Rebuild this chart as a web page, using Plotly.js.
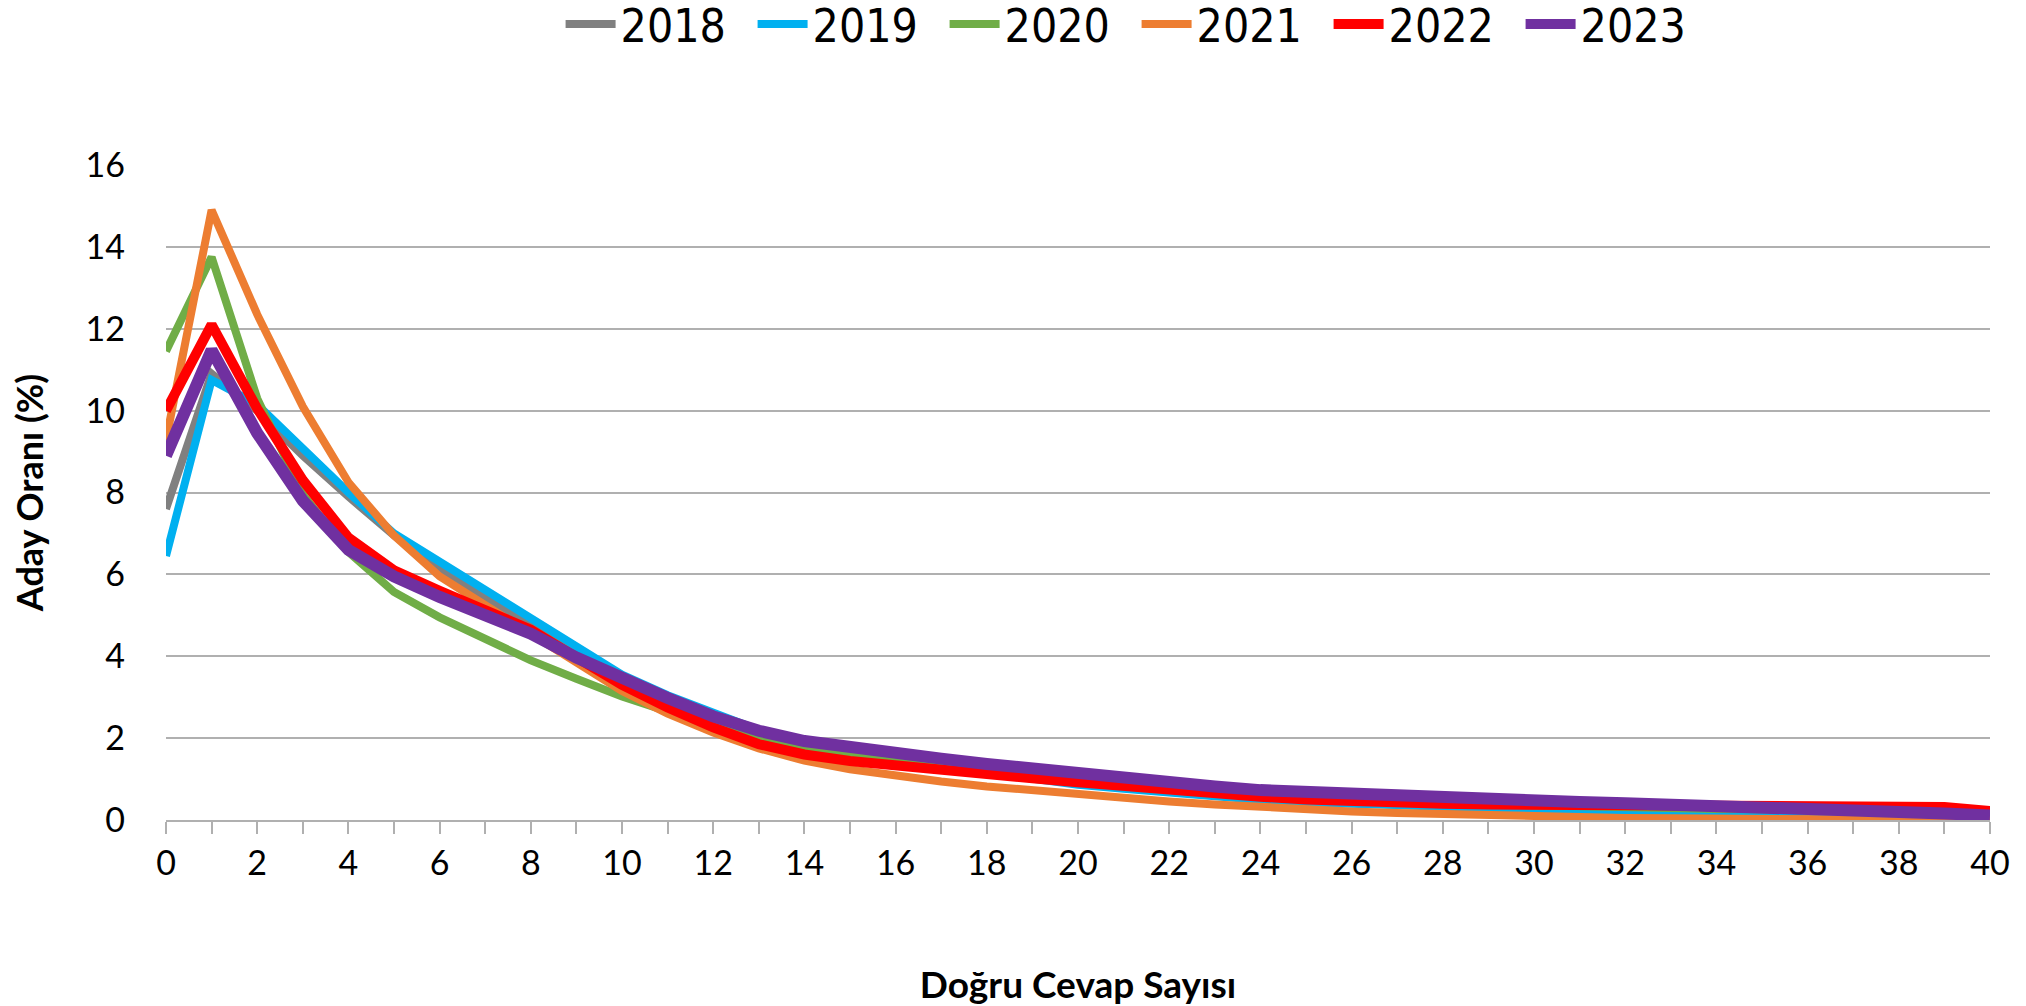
<!DOCTYPE html>
<html>
<head>
<meta charset="utf-8">
<script src="https://cdn.plot.ly/plotly-3.0.1.min.js"></script>
<style>html,body{margin:0;padding:0;background:#fff;}#chart{width:2026px;height:1006px;}</style>
</head>
<body>
<div id="chart"></div>
<script>
const xValues = Array.from({length: 41}, (_, i) => i);
const seriesNames = ["2018", "2019", "2020", "2021", "2022", "2023"];
const y2018 = [7.6, 10.9, 10.0, 8.9, 7.9, 6.95, 6.1, 5.4, 4.75, 4.1, 3.5, 3.0, 2.6, 2.2, 1.9, 1.65, 1.45, 1.3, 1.15, 1.02, 0.9, 0.8, 0.7, 0.62, 0.55, 0.48, 0.42, 0.37, 0.32, 0.28, 0.25, 0.22, 0.19, 0.17, 0.15, 0.13, 0.12, 0.1, 0.09, 0.07, 0.05];
const y2019 = [6.45, 10.75, 10.15, 9.05, 8.0, 7.0, 6.3, 5.65, 4.95, 4.2, 3.55, 3.05, 2.62, 2.2, 1.85, 1.62, 1.45, 1.3, 1.15, 1.0, 0.86, 0.76, 0.66, 0.57, 0.49, 0.43, 0.39, 0.36, 0.33, 0.3, 0.27, 0.24, 0.21, 0.19, 0.17, 0.16, 0.15, 0.13, 0.11, 0.08, 0.05];
const y2020 = [11.45, 13.75, 10.3, 7.95, 6.55, 5.57, 4.95, 4.4, 3.9, 3.45, 3.02, 2.65, 2.3, 2.02, 1.8, 1.64, 1.48, 1.37, 1.27, 1.17, 1.06, 0.96, 0.86, 0.77, 0.68, 0.6, 0.54, 0.48, 0.43, 0.39, 0.36, 0.33, 0.31, 0.29, 0.27, 0.26, 0.25, 0.24, 0.22, 0.18, 0.12];
const y2021 = [9.28, 14.9, 12.35, 10.1, 8.25, 6.95, 5.95, 5.25, 4.55, 3.9, 3.15, 2.6, 2.14, 1.75, 1.45, 1.24, 1.07, 0.94, 0.82, 0.72, 0.62, 0.53, 0.45, 0.38, 0.31, 0.26, 0.21, 0.17, 0.14, 0.11, 0.08, 0.07, 0.05, 0.04, 0.04, 0.04, 0.04, 0.03, 0.03, 0.01, 0.0];
const y2022 = [10.0, 12.1, 10.05, 8.3, 6.9, 6.1, 5.6, 5.15, 4.65, 3.97, 3.3, 2.75, 2.26, 1.85, 1.6, 1.44, 1.32, 1.2, 1.1, 1.02, 0.92, 0.82, 0.73, 0.65, 0.57, 0.5, 0.45, 0.42, 0.4, 0.38, 0.37, 0.36, 0.35, 0.35, 0.34, 0.34, 0.34, 0.35, 0.35, 0.32, 0.22];
const y2023 = [8.9, 11.48, 9.45, 7.8, 6.6, 5.95, 5.45, 5.03, 4.55, 3.97, 3.45, 2.98, 2.53, 2.18, 1.93, 1.77, 1.64, 1.5, 1.37, 1.25, 1.13, 1.03, 0.92, 0.82, 0.73, 0.68, 0.64, 0.59, 0.54, 0.5, 0.47, 0.44, 0.41, 0.38, 0.35, 0.33, 0.31, 0.27, 0.23, 0.16, 0.11];
const yTickVals = [0, 2, 4, 6, 8, 10, 12, 14, 16];
const xTickVals = [0, 2, 4, 6, 8, 10, 12, 14, 16, 18, 20, 22, 24, 26, 28, 30, 32, 34, 36, 38, 40];

const allY = [y2018, y2019, y2020, y2021, y2022, y2023];
const colors = ["#808080", "#00B0F0", "#70AD47", "#ED7D31", "#FF0000", "#7030A0"];
const widths = [8, 8, 8, 8, 10, 12];

const traces = allY.map((ys, i) => ({
  x: xValues, y: ys, name: seriesNames[i], type: "scatter", mode: "lines",
  line: {color: colors[i], width: widths[i], shape: "linear"},
  hoverinfo: "skip"
}));

const font = "Lato, 'Open Sans', 'Liberation Sans', sans-serif";
const narrow = "'DejaVu Sans Condensed', 'Liberation Sans', sans-serif";
const layout = {
  width: 2026, height: 1006,
  margin: {l: 166, r: 36, t: 165, b: 186, autoexpand: false},
  paper_bgcolor: "#fff", plot_bgcolor: "#fff",
  font: {family: font, color: "#000", size: 34},
  showlegend: true,
  legend: {orientation: "h", xref: "container", x: 0.561, xanchor: "center",
           yref: "container", y: 0.976, yanchor: "middle",
           font: {size: 46, family: narrow}, itemwidth: 50, tracegroupgap: 0, traceorder: "normal",
           entrywidth: 127},
  xaxis: {
    range: [0, 40], tickvals: xTickVals, ticktext: xTickVals.map(String),
    ticks: "outside", ticklen: 12, tickwidth: 2, tickcolor: "#b0b0b0",
    minor: {dtick: 1, tick0: 0, ticks: "outside", ticklen: 12, tickwidth: 2, tickcolor: "#b0b0b0", showgrid: false},
    showline: true, linecolor: "#b0b0b0", linewidth: 2, showgrid: false, zeroline: false,
    tickfont: {size: 34, family: font},
    title: {text: "<b>Doğru Cevap Sayısı</b>", font: {size: 37, family: font}, standoff: 95}
  },
  yaxis: {
    range: [0, 16], tickvals: yTickVals, ticktext: yTickVals.map(String),
    showgrid: true, gridcolor: "#b0b0b0", gridwidth: 2, zeroline: false, showline: false,
    ticks: "", ticklabelstandoff: 40,
    tickfont: {size: 34, family: font},
    title: {text: "<b>Aday Oranı (%)</b>", font: {size: 36, family: font}, standoff: 30}
  }
};

Plotly.newPlot("chart", traces, layout, {displayModeBar: false, staticPlot: true});
</script>
</body>
</html>
